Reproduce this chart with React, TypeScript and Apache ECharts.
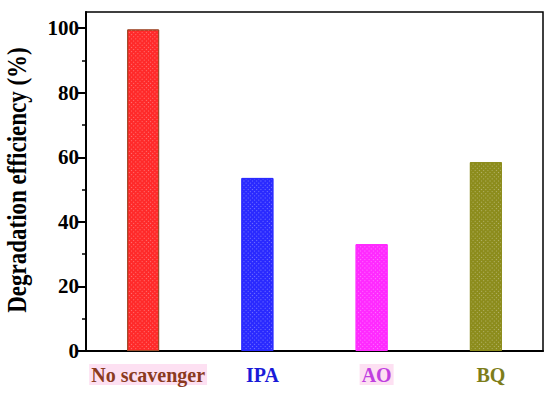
import React, { useEffect, useRef } from "react";
import * as echarts from "echarts";

const categories = ["No scavenger", "IPA", "AO", "BQ"];
const efficiency = [99.6, 53.6, 33.1, 58.5];
const barColors = ["#ff2a2a", "#2a2aff", "#ff2aff", "#8c8c1c"];
const labelColors = ["#8b3a1e", "#1a1ad8", "#c040e0", "#7d7d1a"];
const labelBg = ["#fde0f2", "#ffffff", "#fde0f2", "#ffffff"];
const majorTicks = [0, 20, 40, 60, 80, 100];
const minorTicks = [10, 30, 50, 70, 90];
const yTitle = "Degradation efficiency (%)";

const FONT = "'Liberation Serif', 'Times New Roman', serif";

export default function App() {
  const ref = useRef<HTMLDivElement>(null);
  useEffect(() => {
    if (!ref.current) return;
    const chart = echarts.init(ref.current, undefined, { renderer: "svg" });
    const yBase = {
      type: "value",
      min: 0,
      max: 105,
      splitLine: { show: false },
    };
    chart.setOption({
      animation: false,
      backgroundColor: "#ffffff",
      grid: {
        left: 86,
        right: 7,
        top: 12,
        bottom: 44,
        show: true,
        borderColor: "#000",
        borderWidth: 1.5,
        backgroundColor: "transparent",
      },
      xAxis: {
        type: "category",
        data: categories,
        axisLine: { lineStyle: { color: "#000", width: 2 } },
        axisTick: { show: false },
        axisLabel: {
          interval: 0,
          margin: 13,
          padding: [0, 0, 0, 10],
          fontFamily: FONT,
          fontWeight: "bold",
          fontSize: 20,
          formatter: (v: string) => {
            const i = categories.indexOf(v);
            return `{c${i}|${v}}`;
          },
          rich: Object.fromEntries(
            categories.map((_, i) => [
              `c${i}`,
              {
                color: labelColors[i],
                backgroundColor: labelBg[i],
                fontFamily: FONT,
                fontWeight: "bold",
                fontSize: 20,
                padding: [1, 2, 0, 2],
              },
            ])
          ),
        },
      },
      yAxis: [
        {
          ...yBase,
          axisLine: { show: true, lineStyle: { color: "#000", width: 2 } },
          axisTick: {
            show: true,
            inside: false,
            length: 8,
            lineStyle: { color: "#000", width: 2 },
            customValues: majorTicks,
          },
          axisLabel: {
            customValues: majorTicks,
            color: "#000",
            fontFamily: FONT,
            fontWeight: "bold",
            fontSize: 21,
            margin: 7,
          },
        },
        {
          ...yBase,
          position: "left",
          axisLine: { show: false },
          axisTick: {
            show: true,
            inside: false,
            length: 4,
            lineStyle: { color: "#000", width: 1.5 },
            customValues: minorTicks,
          },
          axisLabel: { show: false },
        },
      ],
      graphic: [
        {
          type: "text",
          x: 17,
          y: 180,
          rotation: Math.PI / 2,
          scaleY: 1.15,
          style: {
            text: yTitle,
            fontFamily: FONT,
            fontWeight: "bold",
            fontSize: 23,
            fill: "#000",
            align: "center",
            verticalAlign: "middle",
          },
        },
      ],
      series: [
        {
          type: "bar",
          yAxisIndex: 0,
          barWidth: 32,
          data: efficiency.map((v, i) => ({
            value: v,
            itemStyle: {
              color: barColors[i],
              borderColor: i === 0 ? "#a04a2a" : barColors[i],
              borderWidth: 1,
              decal: {
                symbol: "rect",
                symbolSize: 1,
                dashArrayX: [1, 2],
                dashArrayY: [1, 2],
                rotation: Math.PI / 4,
                color: "rgba(255,255,255,0.35)",
              },
            },
          })),
        },
      ],
    });
    return () => chart.dispose();
  }, []);
  return <div ref={ref} style={{ width: 550, height: 395, position: "absolute", left: 0, top: 0 }} />;
}
